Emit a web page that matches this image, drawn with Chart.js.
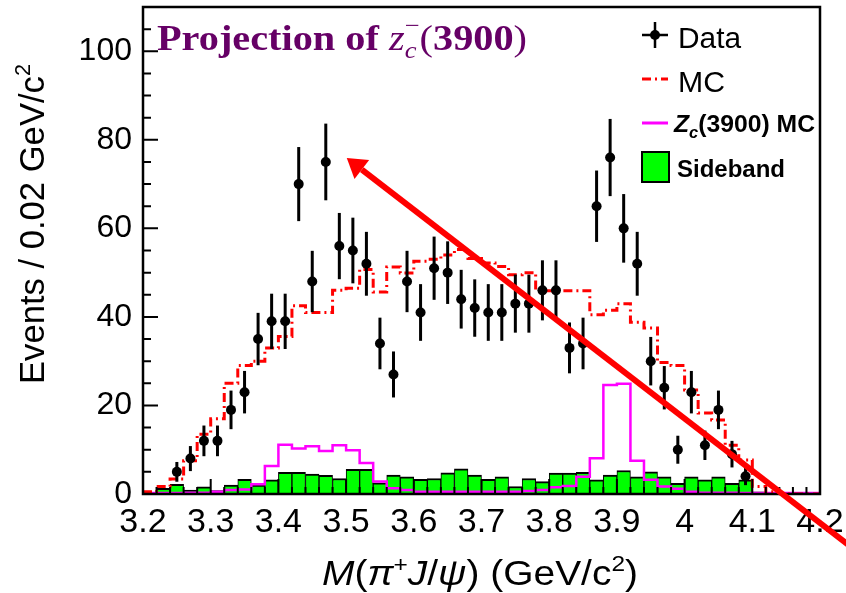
<!DOCTYPE html>
<html>
<head>
<meta charset="utf-8">
<script src="https://cdn.jsdelivr.net/npm/chart.js@4.4.1/dist/chart.umd.min.js"></script>
<style>
    body { margin: 0; background: #fff; }
    #wrap { width: 846px; height: 593px; }
</style>
</head>
<body>
<div id="wrap"><canvas id="chart" width="846" height="593"></canvas></div>
<script>
// 50 bins of 0.02 GeV/c^2 between 3.2 and 4.2
const xMin = 3.2, xMax = 4.2, binWidth = 0.02;
const yMin = 0, yMax = 110;
const xTicks = [3.2, 3.3, 3.4, 3.5, 3.6, 3.7, 3.8, 3.9, 4.0, 4.1, 4.2];
const xTickLabels = ['3.2', '3.3', '3.4', '3.5', '3.6', '3.7', '3.8', '3.9', '4', '4.1', '4.2'];
const yTicks = [0, 20, 40, 60, 80, 100];

// events per bin (null = empty bin)
const dataCounts = [null, null, 5, 8, 12, 12, 19, 23, 35, 39,
    39, 70, 48, 75, 56, 55, 52, 34, 27, 48,
    41, 51, 50, 44, 42, 41, 41, 43, 43, 46,
    46, 33, 34, 65, 76, 60, 52, 30, 24, 10,
    23, 11, 19, 9, 4, null, null, null, null, null];

const mcCounts = [0.5, 1.7, 3.4, 7.5, 13.5, 17, 25, 29, 30, 33,
    35.6, 42.5, 41, 41, 46, 46.5, 50.7, 45.6, 51.3, 49.9,
    52.6, 53, 54, 55.2, 53.2, 52.2, 51.4, 49.5, 50, 45.9,
    45.9, 45.9, 45.9, 40.5, 41.5, 43, 38.8, 37.5, 29.7, 29,
    23.5, 18.3, 16.7, 11, 7.7, 1.7, 0.5, 0, 0, 0];

const zcMcCounts = [0.2, 0.2, 0.2, 0.3, 0.3, 0.5, 0.9, 1.0, 2.2, 6.3,
    11.1, 10.3, 10.8, 9.7, 11.0, 9.9, 7.0, 2.8, 1.3, 0.9,
    0.5, 0.5, 0.5, 0.5, 0.5, 0.5, 0.5, 0.5, 0.7, 0.9,
    1.5, 1.8, 3.9, 8.1, 24.6, 24.9, 7.5, 3.2, 1.7, 1.2,
    0.5, 0.3, 0.3, 0.3, 0.2, 0.2, 0.2, 0.2, 0.2, 0.2];

const sidebandCounts = [null, 1.3, 2.2, 0.9, 1.6, 0.8, 2.0, 3.3, 2.0, 3.2,
    4.9, 4.9, 4.5, 4.2, 3.5, 5.6, 5.6, 2.5, 4.3, 3.9,
    3.3, 3.5, 4.8, 5.7, 4.3, 3.3, 3.9, 1.7, 3.5, 2.8,
    4.7, 4.7, 4.9, 3.2, 4.3, 5.3, 3.9, 5.0, 3.9, 2.4,
    3.9, 3.2, 3.9, 2.4, 3.2, 0.5, null, null, null, null];

// annotation arrow, in data coordinates
const arrowTail = { x: 4.26, y: -13.6 };
const arrowTip = { x: 3.501, y: 75.9 };

const binCenter = i => +(xMin + binWidth * (i + 0.5)).toFixed(3);
const binEdge = i => +(xMin + binWidth * i).toFixed(3);

// histogram outline: one point per left edge + closing point at xMax
function stepPoints(values) {
    const pts = values.map((v, i) => ({ x: binEdge(i), y: v }));
    pts.push({ x: xMax, y: values[values.length - 1] });
    return pts;
}

const dataPoints = [];
dataCounts.forEach((n, i) => { if (n !== null) dataPoints.push({ x: binCenter(i), y: n }); });
const sidebandBars = sidebandCounts.map((v, i) => ({ x: binCenter(i), y: v }));

const purple = '#660066';

// draws a list of text pieces on one baseline, squeezed/stretched to a width
function drawRich(ctx, parts, x, y, targetWidth) {
    let total = 0;
    parts.forEach(p => {
        ctx.font = p.font;
        p.w = ctx.measureText(p.t).width;
        if (!p.noAdvance) total += p.w;
    });
    const sx = targetWidth ? targetWidth / total : 1;
    ctx.save();
    ctx.translate(x, y);
    ctx.scale(sx, 1);
    let cx = 0;
    parts.forEach(p => {
        ctx.font = p.font;
        ctx.fillText(p.t, cx, p.dy || 0);
        if (!p.noAdvance) cx += p.w;
    });
    ctx.restore();
}

const errorBars = {
    id: 'errorBars',
    afterDatasetsDraw(chart) {
        const { ctx, chartArea, scales: { x, y } } = chart;
        ctx.save();
        ctx.beginPath();
        ctx.rect(chartArea.left, chartArea.top, chartArea.width, chartArea.height);
        ctx.clip();
        ctx.strokeStyle = '#000';
        ctx.lineWidth = 3;
        dataPoints.forEach(p => {
            const err = Math.sqrt(p.y);
            const px = x.getPixelForValue(p.x);
            ctx.beginPath();
            ctx.moveTo(px, y.getPixelForValue(p.y - err));
            ctx.lineTo(px, y.getPixelForValue(p.y + err));
            ctx.stroke();
        });
        ctx.restore();
    }
};

// ROOT style frame with inner tick marks
const frame = {
    id: 'frame',
    afterDatasetsDraw(chart) {
        const { ctx, chartArea: a, scales: { x, y } } = chart;
        ctx.save();
        ctx.strokeStyle = '#000';
        ctx.lineWidth = 2;
        ctx.beginPath();
        for (let v = yMin; v <= yMax; v += 5) {
            const py = y.getPixelForValue(v);
            const len = yTicks.includes(v) ? 15 : 8;
            ctx.moveTo(a.left, py); ctx.lineTo(a.left + len, py);
        }
        for (let i = 0; i <= dataCounts.length; i++) {
            const v = binEdge(i);
            const px = x.getPixelForValue(v);
            const len = i % 5 === 0 ? 15 : 7;
            ctx.moveTo(px, a.bottom); ctx.lineTo(px, a.bottom - len);
        }
        ctx.stroke();
        ctx.lineWidth = 2.5;
        ctx.strokeRect(a.left, a.top, a.right - a.left, a.bottom - a.top);
        ctx.restore();
    }
};

const texts = {
    id: 'texts',
    afterDraw(chart) {
        const { ctx, scales: { x, y } } = chart;
        ctx.save();
        ctx.textBaseline = 'alphabetic';

        // title
        ctx.fillStyle = purple;
        drawRich(ctx, [
            { t: 'Projection of ', font: 'bold 35px "Liberation Serif"' },
            { t: 'z', font: 'italic 35px "Liberation Serif"' },
            { t: 'c', font: 'italic 23px "Liberation Serif"', dy: 8, noAdvance: true },
            { t: '\u2212', font: '23px "Liberation Serif"', dy: -17 },
            { t: '(', font: '35px "Liberation Serif"' },
            { t: '3900', font: 'bold 35px "Liberation Serif"' },
            { t: ')', font: '35px "Liberation Serif"' }
        ], 157, 50, 370);

        // axis titles
        ctx.fillStyle = '#000';
        drawRich(ctx, [
            { t: 'M', font: 'italic 35px "Liberation Sans"' },
            { t: '(', font: '35px "Liberation Sans"' },
            { t: '\u03c0', font: 'italic 35px "Liberation Sans"' },
            { t: '+', font: '22px "Liberation Sans"', dy: -13 },
            { t: 'J', font: 'italic 35px "Liberation Sans"' },
            { t: '/', font: '35px "Liberation Sans"' },
            { t: '\u03c8', font: 'italic 35px "Liberation Sans"' },
            { t: ') (GeV/c', font: '35px "Liberation Sans"' },
            { t: '2', font: '22px "Liberation Sans"', dy: -14 },
            { t: ')', font: '35px "Liberation Sans"' }
        ], 322, 585, 316);

        ctx.save();
        ctx.translate(44, 384);
        ctx.rotate(-Math.PI / 2);
        drawRich(ctx, [
            { t: 'Events / 0.02 GeV/c', font: '35px "Liberation Sans"' },
            { t: '2', font: '22px "Liberation Sans"', dy: -14 }
        ], 0, 0, 320);
        ctx.restore();

        // legend
        ctx.strokeStyle = '#000';
        ctx.lineWidth = 2.5;
        ctx.beginPath();
        ctx.moveTo(642, 35); ctx.lineTo(668, 35);
        ctx.moveTo(655, 22); ctx.lineTo(655, 48);
        ctx.stroke();
        ctx.beginPath(); ctx.arc(655, 35, 5, 0, Math.PI * 2); ctx.fill();
        drawRich(ctx, [{ t: 'Data', font: '30px "Liberation Sans"' }], 678, 48, 63);

        ctx.strokeStyle = '#ff0000';
        ctx.lineWidth = 3;
        ctx.setLineDash([9, 4, 2, 4]);
        ctx.beginPath(); ctx.moveTo(642, 79); ctx.lineTo(668, 79); ctx.stroke();
        ctx.setLineDash([]);
        drawRich(ctx, [{ t: 'MC', font: '30px "Liberation Sans"' }], 678, 92, 47);

        ctx.strokeStyle = '#ff00ff';
        ctx.lineWidth = 3;
        ctx.beginPath(); ctx.moveTo(642, 123); ctx.lineTo(668, 123); ctx.stroke();
        drawRich(ctx, [
            { t: 'Z', font: 'italic bold 24px "Liberation Sans"' },
            { t: 'c', font: 'italic bold 16px "Liberation Sans"', dy: 6 },
            { t: '(3900) MC', font: 'bold 24px "Liberation Sans"' }
        ], 674, 131.5, 141);

        ctx.fillStyle = '#00ff00';
        ctx.fillRect(642, 152, 27, 30);
        ctx.strokeStyle = '#000';
        ctx.lineWidth = 2;
        ctx.strokeRect(642, 152, 27, 30);
        ctx.fillStyle = '#000';
        drawRich(ctx, [{ t: 'Sideband', font: 'bold 24px "Liberation Sans"' }], 677, 177, 108);

        // red arrow
        const tx = x.getPixelForValue(arrowTail.x), ty = y.getPixelForValue(arrowTail.y);
        const hx = x.getPixelForValue(arrowTip.x), hy = y.getPixelForValue(arrowTip.y);
        const ang = Math.atan2(hy - ty, hx - tx);
        const headLen = 19, headHalf = 12;
        const bx = hx - headLen * Math.cos(ang), by = hy - headLen * Math.sin(ang);
        ctx.strokeStyle = '#ff0000';
        ctx.fillStyle = '#ff0000';
        ctx.lineWidth = 6;
        ctx.beginPath(); ctx.moveTo(tx, ty); ctx.lineTo(bx, by); ctx.stroke();
        ctx.beginPath();
        ctx.moveTo(hx, hy);
        ctx.lineTo(bx + headHalf * Math.sin(ang), by - headHalf * Math.cos(ang));
        ctx.lineTo(bx - headHalf * Math.sin(ang), by + headHalf * Math.cos(ang));
        ctx.closePath();
        ctx.fill();
        ctx.restore();
    }
};

new Chart(document.getElementById('chart'), {
    type: 'bar',
    data: {
        datasets: [
            {
                type: 'scatter', label: 'Data', data: dataPoints, order: 0,
                pointRadius: 5, pointBackgroundColor: '#000', pointBorderWidth: 0
            },
            {
                type: 'line', label: 'MC', data: stepPoints(mcCounts), order: 1,
                stepped: true, borderColor: '#ff0000', borderWidth: 3,
                borderDash: [9, 4, 2, 4], pointRadius: 0, fill: false
            },
            {
                type: 'line', label: 'Zc(3900) MC', data: stepPoints(zcMcCounts), order: 2,
                stepped: true, borderColor: '#ff00ff', borderWidth: 2.5,
                pointRadius: 0, fill: false
            },
            {
                type: 'bar', label: 'Sideband', data: sidebandBars, order: 3,
                backgroundColor: '#00ff00', borderColor: '#000',
                borderWidth: { top: 2, left: 1, right: 1, bottom: 0 },
                barPercentage: 1, categoryPercentage: 1, grouped: false
            }
        ]
    },
    options: {
        responsive: false,
        animation: false,
        devicePixelRatio: 1,
        layout: { padding: { top: 7, right: 26, bottom: 0, left: 0 } },
        plugins: { legend: { display: false }, tooltip: { enabled: false } },
        scales: {
            x: {
                type: 'linear', min: xMin, max: xMax, offset: false,
                grid: { display: false, drawTicks: false },
                border: { display: false },
                afterBuildTicks: s => { s.ticks = xTicks.map(v => ({ value: v })); },
                afterFit: s => { s.height = 99; s.paddingLeft = 0; s.paddingRight = 0; },
                ticks: {
                    autoSkip: false, maxRotation: 0, minRotation: 0, padding: 8,
                    color: '#000', font: { family: 'Liberation Sans', size: 34 },
                    callback: (v, i) => xTickLabels[i]
                }
            },
            y: {
                min: yMin, max: yMax,
                grid: { display: false, drawTicks: false },
                border: { display: false },
                afterBuildTicks: s => { s.ticks = yTicks.map(v => ({ value: v })); },
                afterFit: s => { s.width = 143; s.paddingTop = 0; s.paddingBottom = 0; },
                ticks: {
                    padding: 11, color: '#000',
                    font: { family: 'Liberation Sans', size: 32 }
                }
            }
        }
    },
    plugins: [errorBars, frame, texts]
});
</script>
</body>
</html>
